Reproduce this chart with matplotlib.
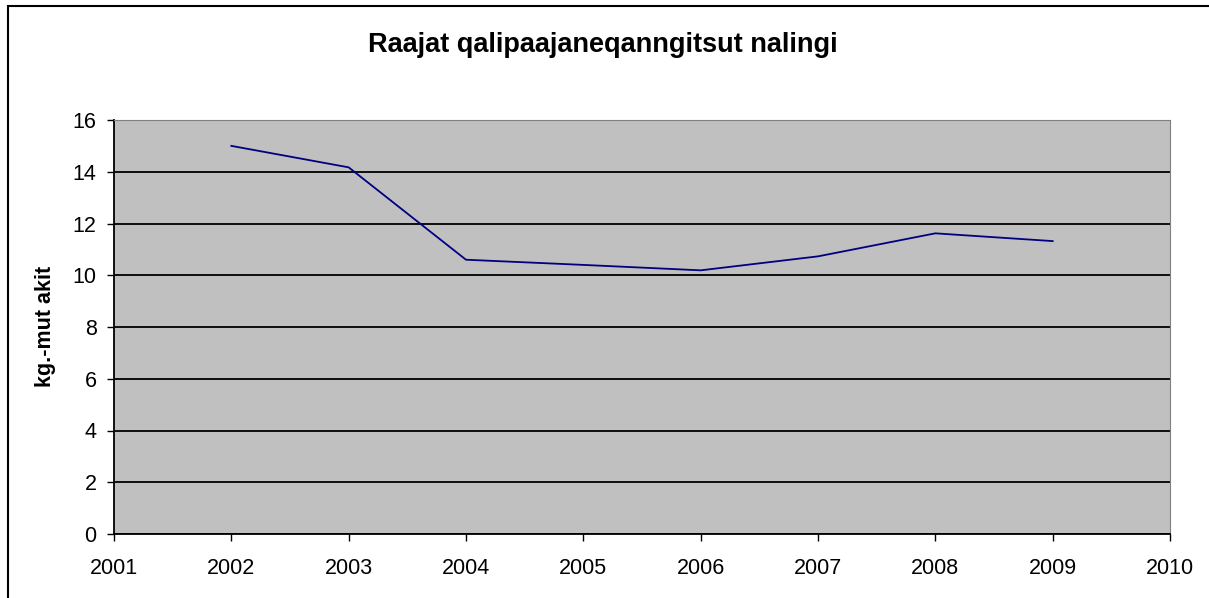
import matplotlib.pyplot as plt
from matplotlib.patches import Rectangle

plt.rcParams['font.family'] = ['Liberation Sans', 'DejaVu Sans']

years = [2002, 2003, 2004, 2005, 2006, 2007, 2008, 2009]
values = [15.0, 14.17, 10.6, 10.4, 10.19, 10.73, 11.62, 11.32]
x_ticks = list(range(2001, 2011))
y_ticks = list(range(0, 17, 2))

title = "Raajat qalipaajaneqanngitsut nalingi"
y_label = "kg.-mut akit"

W, H = 1209, 598
fig = plt.figure(figsize=(W / 100, H / 100), dpi=100)
ax = fig.add_axes([114 / W, 1 - 534 / H, (1170 - 114) / W, (534 - 120) / H])

ax.set_facecolor('#c0c0c0')
ax.plot(years, values, color='#000080', linewidth=1.3)

ax.set_xlim(2001, 2010)
ax.set_ylim(0, 16)
ax.set_xticks(x_ticks)
ax.set_yticks(y_ticks)
ax.yaxis.grid(True, color='black', linewidth=1.3)
ax.set_axisbelow(True)
ax.tick_params(direction='out', length=5, width=1, labelsize=15.5, colors='black')
ax.tick_params(axis='y', pad=7.5)
ax.tick_params(axis='x', pad=12)

for side in ['top', 'right']:
    ax.spines[side].set_color('#808080')
for side in ['left', 'bottom']:
    ax.spines[side].set_color('black')
    ax.spines[side].set_linewidth(1.3)

fig.text(45 / W, 1 - 326 / H, y_label, rotation=90, ha='center', va='center',
         fontsize=15.5, fontweight='bold')
fig.text(603 / W, 1 - 45 / H, title, ha='center', va='center', fontsize=19.5, fontweight='bold')

# outer chart border (runs off right/bottom edges)
fig.patches.append(Rectangle((8 / W, -0.1), 1.2, 1.1 - 6 / H, transform=fig.transFigure,
                             fill=False, edgecolor='black', linewidth=1.5))

fig.savefig('out.png', dpi=100)
